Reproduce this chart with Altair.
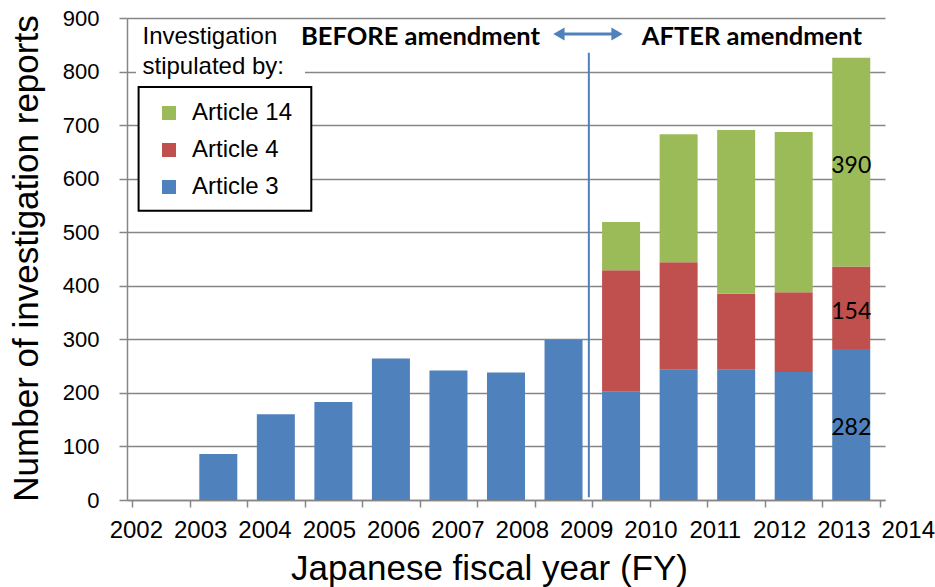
import altair as alt
import pandas as pd

# ---- data ----
fiscal_years = [2002, 2003, 2004, 2005, 2006, 2007, 2008, 2009, 2010, 2011, 2012, 2013]
article3 = [86, 160, 183, 264, 242, 238, 299, 202, 243, 243, 239, 282]
article4 = [0, 0, 0, 0, 0, 0, 0, 227, 201, 142, 149, 154]
article14 = [0, 0, 0, 0, 0, 0, 0, 90, 239, 306, 299, 390]
series_names = ["Article 3", "Article 4", "Article 14"]
series_colors = ["#4f81bd", "#c0504d", "#9bbb59"]
tick_years = [2002, 2003, 2004, 2005, 2006, 2007, 2008, 2009, 2010, 2011, 2012, 2013, 2014]
tick_labels = [str(y) for y in tick_years]
boundary_ticks = list(range(2001, 2015))
y_ticks = list(range(0, 901, 100))

FONT = "Liberation Sans"
GRID = "#868686"

rows = []
for i, fy in enumerate(fiscal_years):
    for k, (name, vals) in enumerate(zip(series_names, [article3, article4, article14])):
        if vals[i] > 0:
            rows.append({"year": fy, "series": name, "value": vals[i], "order": k})
df = pd.DataFrame(rows)

xscale = alt.Scale(domain=[2001, 2014], nice=False, zero=False)
yscale = alt.Scale(domain=[0, 900], nice=False)

bars = (
    alt.Chart(df)
    .transform_calculate(mid="datum.year + 0.5")
    .mark_bar(size=38)
    .encode(
        x=alt.X(
            "mid:Q",
            scale=xscale,
            axis=alt.Axis(
                values=boundary_ticks,
                labels=False,
                grid=False,
                ticks=True,
                tickSize=7,
                tickColor=GRID,
                tickWidth=1.5,
                domainColor=GRID,
                domainWidth=1.5,
                title="Japanese fiscal year (FY)",
                titleFont=FONT,
                titleFontSize=35,
                titleFontWeight="normal",
                titleColor="black",
                titleX=362,
                titleY=79,
                titleBaseline="alphabetic",
                titleAlign="center",
            ),
        ),
        y=alt.Y(
            "value:Q",
            stack="zero",
            scale=yscale,
            axis=alt.Axis(
                values=y_ticks,
                grid=True,
                gridColor=GRID,
                gridWidth=1.5,
                tickSize=8,
                tickColor=GRID,
                tickWidth=1.5,
                domainColor=GRID,
                domainWidth=1.5,
                labelFont=FONT,
                labelFontSize=22,
                labelColor="black",
                labelPadding=20,
                title="Number of investigation reports",
                titleFont=FONT,
                titleFontSize=35,
                titleFontWeight="normal",
                titleColor="black",
                titleX=-90,
                titleY=240,
                titleAngle=270,
                titleBaseline="alphabetic",
                titleAlign="center",
            ),
        ),
        color=alt.Color(
            "series:N",
            scale=alt.Scale(domain=series_names, range=series_colors),
            legend=alt.Legend(
                title=None,
                orient="none",
                legendX=30,
                legendY=83,
                values=["Article 14", "Article 4", "Article 3"],
                symbolType="square",
                symbolSize=196,
                symbolStrokeWidth=0,
                labelFont=FONT,
                labelFontSize=24,
                labelColor="black",
                rowPadding=13,
                labelOffset=11,
                padding=0,
            ),
        ),
        order=alt.Order("order:Q"),
    )
)

one = pd.DataFrame({"a": [0]})

legend_bg = alt.Chart(one).mark_rect(fill="white").encode(
    x=alt.value(9), x2=alt.value(178), y=alt.value(4), y2=alt.value(64)
)
legend_box = alt.Chart(one).mark_rect(fill="white", stroke="black", strokeWidth=2).encode(
    x=alt.value(11.6), x2=alt.value(184.3), y=alt.value(69), y2=alt.value(192.7)
)

head_df = pd.DataFrame({"t": ["Investigation", "stipulated by:"], "py": [25.5, 56]})
head_text = alt.Chart(head_df).mark_text(
    font=FONT, fontSize=24, align="left", baseline="alphabetic", color="black"
).encode(x=alt.value(15.5), y=alt.Y("py:Q", scale=None), text="t:N")

amend_df = pd.DataFrame({
    "t": ["BEFORE amendment", "AFTER amendment"],
    "xx": [2008.09, 2009.86],
})
before_text = alt.Chart(amend_df.iloc[[0]]).mark_text(
    font="Lato", fontSize=25.5, fontWeight="bold", align="right", baseline="middle", color="black"
).encode(x=alt.X("xx:Q", scale=xscale), y=alt.value(19), text="t:N")
after_text = alt.Chart(amend_df.iloc[[1]]).mark_text(
    font="Lato", fontSize=25.5, fontWeight="bold", align="left", baseline="middle", color="black"
).encode(x=alt.X("xx:Q", scale=xscale), y=alt.value(19), text="t:N")

amend_line = alt.Chart(pd.DataFrame({"x": [2008.94], "y1": [835], "y2": [5]})).mark_rule(
    color="#4f81bd", strokeWidth=2
).encode(x=alt.X("x:Q", scale=xscale), y=alt.Y("y1:Q", scale=yscale), y2="y2:Q")

arrow_shaft = alt.Chart(pd.DataFrame({"x1": [2008.42], "x2": [2009.43]})).mark_rule(
    color="#4f81bd", strokeWidth=3
).encode(x=alt.X("x1:Q", scale=xscale), x2="x2:Q", y=alt.value(16))
arrow_heads = alt.Chart(pd.DataFrame({
    "x": [2008.42, 2009.43], "shape": ["triangle-left", "triangle-right"]
})).mark_point(filled=True, color="#4f81bd", size=170, opacity=1).encode(
    x=alt.X("x:Q", scale=xscale), y=alt.value(16),
    shape=alt.Shape("shape:N", scale=None, legend=None)
)

# value labels on the last bar (stack midpoints)
last_vals = [article3[-1], article4[-1], article14[-1]]
mids = []
base = 0
for v in last_vals:
    mids.append(base + v / 2)
    base += v
lab_df = pd.DataFrame({"x": [fiscal_years[-1] + 0.5] * 3, "y": mids, "t": [str(v) for v in last_vals]})
value_labels = alt.Chart(lab_df).mark_text(
    font="Lato", fontSize=23, color="black", baseline="middle", dy=4
).encode(x=alt.X("x:Q", scale=xscale), y=alt.Y("y:Q", scale=yscale), text="t:N")

tick_df = pd.DataFrame({"yr": tick_years, "label": tick_labels})
tick_text = alt.Chart(tick_df).mark_text(
    font=FONT, fontSize=24, color="black", baseline="middle"
).encode(
    x=alt.X("yr:Q", scale=alt.Scale(domain=[2001.855, 2013.638], nice=False, zero=False), axis=None),
    y=alt.value(513),
    text="label:N",
)

main = alt.layer(
    bars, legend_bg, legend_box, head_text, before_text, after_text,
    amend_line, arrow_shaft, arrow_heads, value_labels
)

chart = (
    alt.layer(main, tick_text)
    .resolve_scale(x="independent")
    .properties(
        width=758,
        height=482,
        autosize=alt.AutoSizeParams(type="none"),
        padding={"left": 127, "top": 18, "right": 50, "bottom": 87},
        background="white",
    )
    .configure_view(stroke=None)
)

chart.save("out.html", embed_options={"renderer": "svg", "actions": False})
